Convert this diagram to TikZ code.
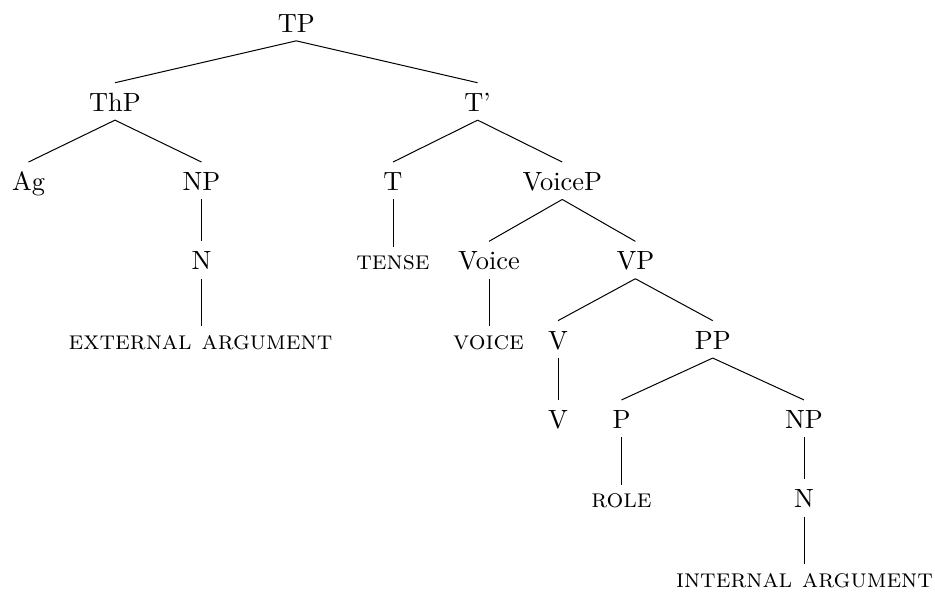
\documentclass[tikz,border=0pt]{standalone}
\begin{document}
\begin{tikzpicture}[x=1pt,y=1pt,
  lbl/.style={inner sep=3.33pt, anchor=base, text height=7.9pt, text depth=0pt, font=\fontsize{10.55}{12.66}\selectfont},
  sclbl/.style={inner sep=3.33pt, anchor=base, font={\fontsize{10.55}{12.66}\selectfont\scshape}},
  branch/.style={line width=0.4pt}]
\useasboundingbox (0,0) rectangle (374,-236.8);
\node[lbl] (TP) at (118.5,-12.8) {TP};
\node[lbl] (ThP) at (46,-44.52) {ThP};
\node[lbl] (Tbar) at (191.05,-44.52) {T'};
\node[lbl] (Ag) at (11.4,-76.24) {Ag};
\node[lbl] (NP1) at (80.6,-76.24) {NP};
\node[lbl] (T) at (157.2,-76.24) {T};
\node[lbl] (VoiceP) at (224.9,-76.24) {VoiceP};
\node[lbl] (N1) at (80.6,-107.96) {N};
\node[sclbl] (tense) at (157.2,-107.96) {tense};
\node[lbl] (Voice) at (195.6,-107.96) {Voice};
\node[lbl] (VP) at (254.15,-107.96) {VP};
\node[sclbl] (extarg) at (80.2,-139.68) {external argument};
\node[sclbl] (voice) at (195.4,-139.68) {voice};
\node[lbl] (V1) at (223.2,-139.68) {V};
\node[lbl] (PP) at (285.1,-139.68) {PP};
\node[lbl] (V2) at (223.2,-171.4) {V};
\node[lbl] (P) at (248.6,-171.4) {P};
\node[lbl] (NP2) at (321.6,-171.4) {NP};
\node[sclbl] (role) at (248.6,-203.12) {role};
\node[lbl] (N2) at (321.6,-203.12) {N};
\node[sclbl] (intarg) at (321.8,-234.84) {internal argument};
\draw[branch] (TP.south) -- (ThP.north);
\draw[branch] (TP.south) -- (Tbar.north);
\draw[branch] (ThP.south) -- (Ag.north);
\draw[branch] (ThP.south) -- (NP1.north);
\draw[branch] (NP1.south) -- (N1.north);
\draw[branch] (N1.south) -- (N1.south |- extarg.north);
\draw[branch] (Tbar.south) -- (T.north);
\draw[branch] (Tbar.south) -- (VoiceP.north);
\draw[branch] (T.south) -- (tense.north);
\draw[branch] (VoiceP.south) -- (Voice.north);
\draw[branch] (VoiceP.south) -- (VP.north);
\draw[branch] (Voice.south) -- (Voice.south |- voice.north);
\draw[branch] (VP.south) -- (V1.north);
\draw[branch] (VP.south) -- (PP.north);
\draw[branch] (V1.south) -- (V2.north);
\draw[branch] (PP.south) -- (P.north);
\draw[branch] (PP.south) -- (NP2.north);
\draw[branch] (P.south) -- (role.north);
\draw[branch] (NP2.south) -- (N2.north);
\draw[branch] (N2.south) -- (N2.south |- intarg.north);
\end{tikzpicture}
\end{document}
